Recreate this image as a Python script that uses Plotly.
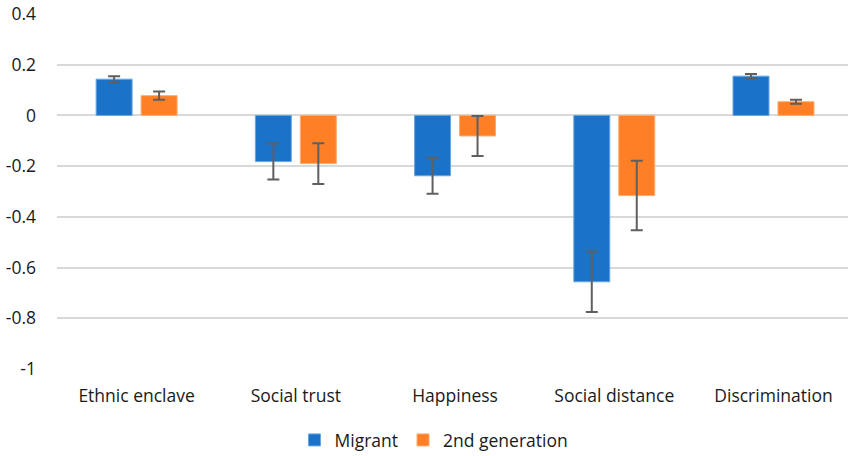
import plotly.graph_objects as go

categories = ["Ethnic enclave", "Social trust", "Happiness", "Social distance", "Discrimination"]
migrant = [0.143, -0.182, -0.238, -0.656, 0.155]
migrant_err = [0.012, 0.071, 0.071, 0.119, 0.008]
second_gen = [0.078, -0.190, -0.081, -0.316, 0.054]
second_gen_err = [0.016, 0.080, 0.079, 0.137, 0.008]
y_ticks = [0.4, 0.2, 0, -0.2, -0.4, -0.6, -0.8, -1]

FONT = "'Open Sans', Lato, sans-serif"
FONT_SIZE = 17.5
ERR_COLOR = "#5f5f5f"

fig = go.Figure()
fig.add_trace(go.Bar(
    name="Migrant", x=categories, y=migrant,
    marker=dict(color="#1a73c9", line=dict(color="#6aa6e0", width=1)),
    error_y=dict(type="data", array=migrant_err, visible=True,
                 color=ERR_COLOR, thickness=2, width=6),
))
fig.add_trace(go.Bar(
    name="2nd generation", x=categories, y=second_gen,
    marker=dict(color="#ff7f27", line=dict(color="#ffab70", width=1)),
    error_y=dict(type="data", array=second_gen_err, visible=True,
                 color=ERR_COLOR, thickness=2, width=6),
))

fig.update_layout(
    width=848, height=456,
    margin=dict(l=57, r=0, t=14, b=87, autoexpand=False),
    paper_bgcolor="white", plot_bgcolor="white",
    barmode="group", bargap=0.435, bargroupgap=0.2,
    font=dict(family=FONT, size=FONT_SIZE, color="#1a1a1a"),
    legend=dict(orientation="h", x=0.4766, xanchor="center",
                y=0.035, yref="container", yanchor="middle",
                font=dict(size=FONT_SIZE), itemwidth=30, traceorder="normal"),
    xaxis=dict(range=[-0.5, 4.468], showgrid=False, showline=False, ticks="",
               automargin=False, ticklabelstandoff=14, tickfont=dict(size=FONT_SIZE)),
    yaxis=dict(range=[-1, 0.4], tickvals=y_ticks, ticktext=[f"{v:g}" for v in y_ticks],
               showgrid=True, gridcolor="#d9d9d9", gridwidth=1.5,
               zeroline=True, zerolinecolor="#d9d9d9", zerolinewidth=1.5,
               showline=False, ticks="", ticklabelstandoff=20, automargin=False,
               tickfont=dict(size=FONT_SIZE)),
)

fig.write_html("out.html")
